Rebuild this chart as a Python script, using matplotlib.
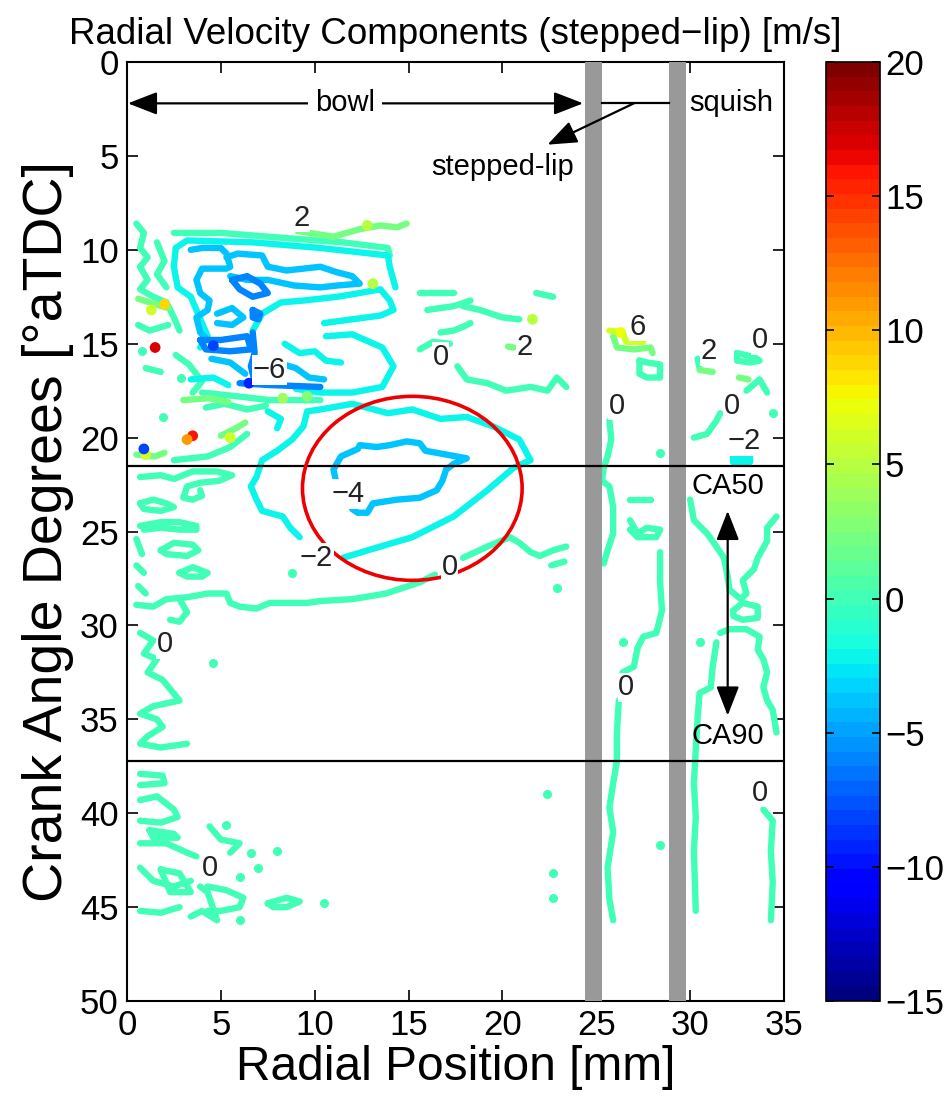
import matplotlib
matplotlib.use('Agg')
import matplotlib.pyplot as plt
from matplotlib.colors import Normalize
from matplotlib.patches import Ellipse
from matplotlib.cm import ScalarMappable

plt.rcParams['font.family'] = ['Liberation Sans', 'DejaVu Sans']

# colour scale of the velocity field [m/s]
vmin, vmax = -15, 20
cbar_ticks = [-15, -10, -5, 0, 5, 10, 15, 20]
xticks = [0, 5, 10, 15, 20, 25, 30, 35]
yticks = [0, 5, 10, 15, 20, 25, 30, 35, 40, 45, 50]

# contour lines, (radial position mm, crank angle deg)
zero_paths = [
    [(2.5, 9.1), (5.0, 9.1), (8.8, 9.4), (11.5, 9.6), (13.9, 9.9), (14.0, 10.3)],
    [(0.5, 8.6), (0.9, 9.1), (0.7, 9.9), (1.1, 10.4), (0.7, 10.9), (1.1, 11.6), (0.7, 12.1),
     (1.4, 12.5), (2.1, 12.8), (2.5, 13.6), (2.8, 14.3)],
    [(1.6, 9.6), (2.0, 10.6), (1.6, 11.3), (2.1, 12.0)],
    [(0.6, 14.0), (1.2, 14.3), (2.2, 14.0)],
    [(1.0, 16.3), (1.8, 16.5)],
    [(2.6, 15.6), (3.3, 16.1), (4.0, 17.0), (3.5, 17.6)],
    [(4.0, 17.6), (5.9, 17.8), (7.6, 18.0), (10.3, 18.0)],
    [(4.2, 18.4), (5.2, 18.2), (6.4, 18.5), (7.4, 18.3)],
    [(2.5, 21.2), (4.3, 21.0), (5.5, 20.5), (6.4, 19.8)],
    [(0.7, 22.1), (1.8, 22.0), (2.5, 22.2), (3.5, 21.8), (4.8, 21.8), (5.6, 22.0), (4.9, 22.3),
     (3.9, 22.4), (3.2, 22.6), (3.0, 23.2), (3.5, 23.3), (4.0, 23.1), (3.9, 22.8)],
    [(0.7, 23.5), (1.4, 23.3), (2.1, 23.5), (2.5, 23.7), (1.8, 23.9), (0.9, 23.8), (0.7, 23.5)],
    [(0.7, 24.7), (1.8, 24.5), (2.8, 24.5), (3.7, 24.7), (3.7, 24.9), (2.8, 24.9), (1.8, 24.8),
     (0.9, 24.9)],
    [(1.8, 26.0), (2.5, 25.6), (3.5, 25.7), (3.8, 26.0), (3.2, 26.3), (2.1, 26.2), (1.8, 26.0)],
    [(2.8, 27.2), (3.5, 26.9), (4.3, 27.2), (4.0, 27.4), (3.2, 27.4), (2.8, 27.2)],
    [(0.5, 25.4), (0.8, 26.2)], [(0.5, 26.8), (0.9, 27.2)], [(0.6, 27.9), (1.0, 28.3)],
    [(0.5, 28.9), (1.4, 29.0), (2.1, 28.6), (3.2, 28.5), (4.3, 28.3), (5.3, 28.3), (5.5, 28.8),
     (6.0, 29.0), (6.9, 29.1), (7.6, 28.8), (8.5, 28.8), (9.6, 28.8), (10.3, 28.7), (12.0, 28.6),
     (13.8, 28.3), (15.6, 27.7), (16.4, 27.3)],
    [(17.9, 26.4), (19.2, 25.8), (20.4, 25.3), (20.9, 25.6), (21.5, 26.1), (22.0, 26.3),
     (22.7, 26.0), (23.4, 25.8)],
    [(22.6, 26.8), (23.3, 26.6)],
    [(0.7, 30.4), (1.4, 30.8), (0.9, 31.5), (1.6, 31.8), (1.1, 32.5), (1.9, 32.9), (2.8, 34.0),
     (1.4, 34.3), (0.7, 34.7), (1.6, 35.0), (1.9, 35.4), (1.1, 35.9), (0.7, 36.3), (1.8, 36.5),
     (3.2, 36.3)],
    [(2.8, 28.6), (3.2, 29.3), (2.8, 29.8), (2.3, 29.7)],
    [(0.7, 37.9), (1.9, 38.0), (2.0, 38.4), (0.7, 38.5)],
    [(0.7, 39.3), (1.6, 39.1), (2.5, 39.8), (2.7, 40.2), (1.8, 40.5), (0.7, 40.4)],
    [(1.2, 40.9), (2.5, 41.1), (2.7, 41.3), (1.4, 41.3), (1.2, 40.9)],
    [(0.7, 41.6), (2.1, 41.6), (3.2, 42.1), (3.7, 42.3)],
    [(4.4, 40.7), (5.0, 41.4), (6.0, 41.6), (5.5, 42.1)],
    [(0.7, 42.9), (1.4, 43.6), (2.5, 43.9), (3.4, 43.6)],
    [(1.8, 43.0), (2.8, 43.2), (3.4, 44.2), (2.3, 44.2), (1.8, 43.0)],
    [(0.7, 45.2), (1.8, 45.3), (2.8, 45.0)],
    [(3.4, 45.5), (4.0, 45.2), (4.8, 45.7), (4.3, 44.2), (3.9, 43.9)],
    [(4.3, 43.9), (5.3, 44.1), (6.2, 44.5), (6.0, 45.0), (5.0, 45.2), (4.3, 45.2)],
    [(7.5, 44.8), (8.5, 44.5), (9.2, 44.7), (8.5, 45.0), (7.8, 45.0), (7.5, 44.8)],
    [(15.6, 12.3), (17.4, 12.3)],
    [(16.0, 13.2), (17.4, 13.0), (18.3, 12.7)],
    [(17.9, 13.0), (18.8, 13.2), (20.0, 13.6), (20.9, 13.7)],
    [(16.7, 14.4), (17.4, 14.3), (17.9, 14.1), (18.3, 13.9)],
    [(21.8, 12.3), (22.7, 12.5)],
    [(15.6, 15.3), (16.3, 14.9), (17.2, 15.0)],
    [(17.6, 16.2), (18.1, 16.9), (19.2, 17.1), (20.2, 17.5), (21.5, 17.3), (22.4, 17.5),
     (22.9, 16.8), (23.4, 17.3)],
    [(25.7, 19.1), (25.8, 20.1), (25.6, 21.0), (25.4, 21.6), (25.3, 22.3), (25.7, 22.6),
     (25.9, 23.7), (25.9, 25.1), (25.6, 26.0), (25.4, 26.7)],
    [(26.8, 23.3), (27.9, 23.3)],
    [(26.8, 24.4), (27.2, 25.1), (27.7, 24.8), (28.4, 24.9), (28.2, 25.3), (27.2, 25.3),
     (26.8, 24.9)],
    [(28.4, 26.1), (28.4, 27.7), (28.5, 29.2), (28.2, 30.4), (27.5, 30.6), (27.2, 31.2),
     (27.0, 32.2), (26.4, 32.5)],
    [(26.2, 34.0), (26.1, 35.7), (26.1, 37.2), (25.9, 38.4), (25.7, 39.7), (25.9, 41.0),
     (25.6, 42.9), (25.7, 44.6), (25.9, 45.7)],
    [(30.0, 23.3), (30.2, 24.4), (30.9, 25.1), (31.4, 25.8), (31.8, 26.4), (32.0, 27.4),
     (32.1, 28.1), (32.7, 28.6), (33.0, 28.3), (32.8, 27.6), (33.4, 27.0), (33.6, 26.4),
     (34.1, 25.5), (34.1, 24.8), (34.6, 24.2)],
    [(32.3, 29.2), (32.8, 28.8), (33.6, 29.0), (33.6, 29.6), (32.8, 29.7), (32.3, 29.5),
     (32.3, 29.2)],
    [(31.6, 30.4), (32.1, 30.2), (33.0, 30.2), (33.7, 30.6), (33.6, 31.3), (33.9, 31.8),
     (34.1, 32.5), (33.9, 33.3), (34.1, 34.0), (34.4, 34.5), (34.6, 35.7)],
    [(31.4, 30.9), (31.2, 32.2), (31.1, 33.3), (30.5, 33.6), (30.4, 34.9), (30.3, 36.6),
     (30.2, 38.4), (30.3, 40.2), (30.2, 42.0), (30.3, 45.2)],
    [(33.9, 39.8), (34.4, 40.4), (34.3, 42.0), (34.4, 43.7), (34.3, 45.7)],
    [(27.3, 15.9), (27.7, 16.0), (28.4, 16.1), (28.4, 16.8), (27.7, 16.8), (27.3, 16.6),
     (27.3, 15.9)],
    [(30.2, 20.0), (30.9, 19.8), (31.4, 19.1), (31.6, 18.7)],
    [(32.5, 15.5), (33.4, 15.7), (33.7, 15.9), (33.2, 16.0), (32.5, 15.9), (32.5, 15.5)],
    [(33.0, 17.5), (33.7, 16.9), (34.1, 17.6)],
    [(30.4, 15.8), (30.5, 16.3)],
]
zero_dots_x = [22.4, 22.7, 22.7, 10.5, 5.3, 6.6, 7.0, 6.0, 8.0, 6.0, 28.4, 34.4, 22.9, 26.4,
               28.4, 30.5, 8.8, 4.6, 0.8, 2.9, 1.9]
zero_dots_y = [39.0, 43.2, 44.5, 44.8, 40.6, 42.1, 42.9, 43.4, 42.0, 45.7, 20.8, 18.7, 28.0,
               30.9, 41.7, 30.9, 27.2, 32.0, 15.4, 16.8, 18.9]

plus2_paths = [
    [(9.1, 9.0), (11.0, 9.3), (12.4, 8.9), (13.5, 8.7), (14.4, 8.8), (14.9, 8.6)],
    [(20.3, 15.15), (20.6, 15.2)],
    [(25.9, 14.6), (26.1, 15.2), (27.0, 15.3), (27.9, 15.2), (28.0, 15.5)],
    [(30.5, 16.4), (31.2, 16.5)],
    [(32.6, 16.8), (33.1, 16.9)],
    [(0.6, 12.6), (1.5, 12.9), (2.2, 13.1)],
    [(0.5, 20.9), (1.5, 21.0), (2.0, 20.8)],
    [(5.0, 19.9), (5.8, 19.5), (6.3, 19.2)],
    [(3.0, 18.0), (4.4, 17.9), (5.4, 18.1)],
]
plus6_paths = [
    [(25.7, 14.3), (26.4, 14.4), (26.6, 14.9), (27.5, 14.9)],
]
minus2_paths = [
    [(9.2, 25.3), (8.7, 24.8), (8.3, 24.2), (7.2, 23.9), (6.9, 23.3), (6.6, 22.6), (6.9, 22.1),
     (7.2, 21.2), (8.0, 20.7), (8.8, 20.1), (9.4, 19.4), (9.6, 18.6), (10.3, 18.5), (12.0, 18.2),
     (13.9, 18.7), (15.2, 18.5), (16.7, 19.0), (18.1, 18.9), (19.5, 19.4), (20.9, 20.1),
     (21.5, 21.2), (20.6, 21.6), (19.2, 22.8), (17.4, 24.2), (15.2, 25.3), (13.5, 25.8),
     (11.5, 26.4)],
    [(2.6, 9.9), (3.2, 9.5), (6.7, 9.6), (10.3, 9.9), (13.9, 10.3), (14.0, 10.9), (14.3, 12.0)],
    [(2.6, 9.9), (2.5, 10.9), (2.7, 12.0), (3.4, 12.5), (3.7, 13.2), (4.0, 13.9), (4.3, 14.6),
     (3.9, 15.2)],
    [(6.7, 14.3), (7.2, 13.4), (8.2, 12.8), (9.4, 12.7), (11.2, 12.5), (12.4, 12.3), (13.5, 12.1),
     (14.0, 12.7), (14.2, 13.2), (13.5, 13.5), (12.0, 13.7), (10.5, 13.9)],
    [(10.6, 14.6), (12.0, 14.5), (13.6, 15.2), (14.2, 16.2), (13.6, 17.3), (12.0, 17.6),
     (10.3, 17.6), (9.0, 17.4)],
    [(8.4, 15.0), (9.2, 15.5), (10.0, 15.4), (10.6, 15.9), (11.4, 16.0)],
    [(3.4, 16.9), (4.6, 16.8), (5.4, 17.2)],
    [(7.5, 18.6), (8.2, 19.0), (8.0, 19.5)],
    [(32.3, 21.0), (33.2, 21.0), (33.2, 21.3), (32.3, 21.3), (32.3, 21.0)],
]
minus4_paths = [
    [(11.2, 22.6), (11.0, 21.7), (11.4, 21.0), (12.3, 20.6), (12.4, 20.4), (13.3, 20.5),
     (14.0, 20.4), (14.9, 20.2), (15.6, 20.3), (15.9, 20.7), (17.0, 20.9), (18.1, 21.1),
     (17.4, 21.4), (17.0, 21.7), (16.8, 22.3), (16.5, 22.8), (15.6, 23.2), (14.4, 23.3),
     (13.1, 23.5), (12.8, 24.0), (12.3, 24.0), (12.0, 23.8)],
    [(3.4, 10.0), (4.0, 9.9), (5.0, 9.9), (5.3, 10.2), (5.5, 10.9), (5.3, 11.0), (4.0, 11.0),
     (3.7, 11.6), (3.9, 12.3), (4.4, 12.7), (4.3, 13.2), (3.7, 13.6), (3.9, 14.4), (4.3, 14.8)],
    [(5.3, 10.4), (5.9, 10.2), (7.2, 10.3), (7.5, 10.9), (8.5, 11.1), (10.3, 10.9), (11.2, 11.2),
     (12.0, 11.4), (12.4, 11.8), (11.2, 11.9), (10.3, 12.0), (8.9, 11.9), (7.5, 11.6), (6.4, 11.6),
     (5.5, 11.4)],
    [(4.5, 15.8), (5.5, 16.0), (6.3, 16.6)],
    [(8.0, 16.0), (9.0, 16.3), (9.7, 16.8), (10.5, 16.9)],
    [(4.8, 13.4), (5.6, 13.1), (6.2, 13.6), (5.6, 14.0), (4.8, 13.9)],
]
minus6_paths = [
    [(5.6, 11.6), (6.4, 11.4), (7.1, 11.8), (7.5, 12.3), (6.7, 12.5), (6.0, 12.1), (5.6, 11.6)],
    [(6.7, 13.2), (7.1, 13.4), (7.0, 13.7), (6.7, 13.6), (6.7, 13.2)],
    [(3.9, 14.8), (5.0, 14.8), (6.4, 14.6), (6.6, 15.3), (5.5, 15.4), (4.2, 15.3), (3.9, 14.8)],
    [(6.7, 14.4), (6.8, 15.5), (6.6, 16.2), (6.8, 17.0)],
    [(6.0, 17.1), (7.6, 17.2), (10.3, 17.3)],
]
contour_sets = [(0, zero_paths), (2, plus2_paths), (6, plus6_paths),
                (-2, minus2_paths), (-4, minus4_paths), (-6, minus6_paths)]

# small hot / cold spots
spot_x = [1.5, 3.5, 3.2, 2.0, 1.3, 13.1, 12.8, 5.5, 1.0, 26.3, 6.5, 4.6, 21.6, 8.3, 9.6, 0.9]
spot_y = [15.2, 19.9, 20.1, 12.9, 13.2, 11.8, 8.7, 20.0, 20.9, 14.4, 17.1, 15.1, 13.7, 17.9,
          17.8, 20.6]
spot_v = [17, 16, 11, 9, 6, 5, 5, 6, 6, 7, -9, -8, 5, 4, 3, -8]

# contour labels
label_x = [9.3, 7.6, 16.7, 21.2, 27.2, 31.0, 33.7, 26.1, 32.2, 32.9, 11.8, 10.1, 17.2, 2.0,
           26.6, 33.7, 4.4]
label_y = [8.3, 16.4, 15.7, 15.2, 14.1, 15.4, 14.8, 18.3, 18.3, 20.2, 23.0, 26.4, 26.9, 31.0,
           33.3, 38.9, 42.9]
label_text = ['2', '\u22126', '0', '2', '6', '2', '0', '0', '0', '\u22122', '\u22124', '\u22122',
              '0', '0', '0', '0', '0']

# combustion markers [deg aTDC] and piston bowl geometry [mm]
ca50, ca90 = 21.5, 37.2
lip_bars = [(24.4, 25.3), (28.9, 29.8)]

cmap = plt.get_cmap('jet', 64)
norm = Normalize(vmin, vmax)

fig = plt.figure(figsize=(9.51, 10.98), dpi=100)
ax = fig.add_axes([0.1335, 0.0883, 0.6909, 0.8552])
cax = fig.add_axes([0.8686, 0.0883, 0.0568, 0.8552])

for level, paths in contour_sets:
    for p in paths:
        xs, ys = zip(*p)
        ax.plot(xs, ys, color=cmap(norm(level)), lw=4.6, solid_capstyle='round',
                solid_joinstyle='round', zorder=2)
ax.plot(zero_dots_x, zero_dots_y, 'o', ms=5.5, color=cmap(norm(0)), zorder=2)
ax.scatter(spot_x, spot_y, c=spot_v, cmap=cmap, norm=norm, s=60, zorder=3, linewidths=0)

for x0, x1 in lip_bars:
    ax.axvspan(x0, x1, color='#999999', zorder=4, lw=0)

for ca in (ca50, ca90):
    ax.axhline(ca, color='black', lw=1.6, zorder=5)

ax.add_patch(Ellipse((15.2, 22.7), 11.7, 9.8, fill=False, ec='#ee0000', lw=2.6, zorder=6))

for x, y, s in zip(label_x, label_y, label_text):
    ax.text(x, y, s, fontsize=21, ha='center', va='center', zorder=7, color='#222222',
            bbox=dict(fc='white', ec='none', pad=0.5))

# region annotations
ax.annotate('', xy=(0.05, 2.2), xytext=(24.3, 2.2), zorder=8,
            arrowprops=dict(arrowstyle='<|-|>,head_length=0.9,head_width=0.35', color='black',
                            lw=1.6, mutation_scale=20, shrinkA=0, shrinkB=0))
ax.text(11.6, 2.2, 'bowl', fontsize=21, ha='center', va='center', zorder=9,
        bbox=dict(fc='white', ec='none', pad=5))
ax.plot([25.3, 28.9], [2.2, 2.2], color='black', lw=1.6, zorder=8)
ax.annotate('', xy=(22.4, 4.4), xytext=(27.0, 2.2), zorder=8,
            arrowprops=dict(arrowstyle='-|>,head_length=0.9,head_width=0.35', color='black',
                            lw=1.6, mutation_scale=20, shrinkA=0, shrinkB=0))
ax.text(29.95, 2.2, 'squish', fontsize=21, ha='left', va='center', zorder=9)
ax.text(20.0, 5.6, 'stepped-lip', fontsize=21, ha='center', va='center', zorder=9)
ax.text(32.0, 22.6, 'CA50', fontsize=21, ha='center', va='center', zorder=9)
ax.text(32.0, 35.9, 'CA90', fontsize=21, ha='center', va='center', zorder=9)
ax.annotate('', xy=(32.0, 23.9), xytext=(32.0, 34.8), zorder=8,
            arrowprops=dict(arrowstyle='<|-|>,head_length=0.9,head_width=0.35', color='black',
                            lw=1.6, mutation_scale=20, shrinkA=0, shrinkB=0))

ax.set_xlim(0, 35)
ax.set_ylim(50, 0)
ax.set_xticks(xticks)
ax.set_yticks(yticks)
ax.tick_params(direction='in', length=8, width=1.2, top=True, right=True, labelsize=25,
               pad=6)
for sp in ax.spines.values():
    sp.set_linewidth(1.5)
ax.set_xlabel('Radial Position [mm]', fontsize=34.5, labelpad=2)
ax.set_ylabel('Crank Angle Degrees [\u00b0aTDC]', fontsize=40, labelpad=4)
ax.set_title('Radial Velocity Components (stepped\u2212lip) [m/s]', fontsize=26.5, pad=13)

sm = ScalarMappable(norm=norm, cmap=cmap)
cb = fig.colorbar(sm, cax=cax, ticks=cbar_ticks)
cb.outline.set_linewidth(1.2)
cax.tick_params(direction='in', length=6, width=1.2, left=True, right=True, labelsize=25)

fig.savefig('out.png', dpi=100)
